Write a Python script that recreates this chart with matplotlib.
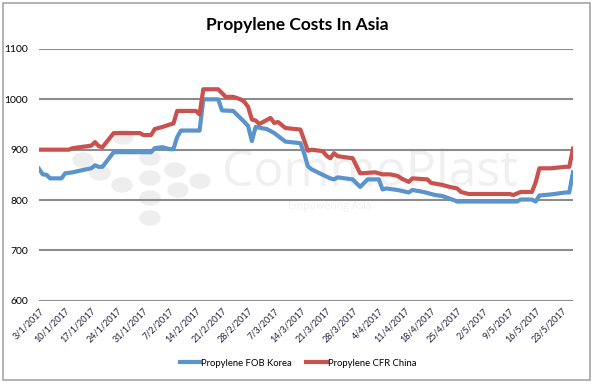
import numpy as np
import pandas as pd
import matplotlib
matplotlib.use("Agg")
import matplotlib.pyplot as plt
from matplotlib.patches import Rectangle, Ellipse

korea_dates = ['2017-01-03', '2017-01-04', '2017-01-05', '2017-01-06', '2017-01-09', '2017-01-10',
               '2017-01-12', '2017-01-15', '2017-01-17', '2017-01-18', '2017-01-19', '2017-01-20',
               '2017-01-23', '2017-02-02', '2017-02-03', '2017-02-05', '2017-02-07', '2017-02-08',
               '2017-02-09', '2017-02-10', '2017-02-15', '2017-02-16', '2017-02-20', '2017-02-21',
               '2017-02-24', '2017-02-27', '2017-02-28', '2017-03-01', '2017-03-02', '2017-03-05',
               '2017-03-07', '2017-03-10', '2017-03-14', '2017-03-15', '2017-03-16', '2017-03-17',
               '2017-03-20', '2017-03-22', '2017-03-23', '2017-03-24', '2017-03-26', '2017-03-28',
               '2017-03-30', '2017-04-01', '2017-04-04', '2017-04-05', '2017-04-06', '2017-04-09',
               '2017-04-12', '2017-04-13', '2017-04-16', '2017-04-19', '2017-04-21', '2017-04-24',
               '2017-04-25', '2017-05-11', '2017-05-12', '2017-05-15', '2017-05-16', '2017-05-17',
               '2017-05-20', '2017-05-24', '2017-05-25', '2017-05-26']
korea_values = [862, 851, 850, 843, 843, 853,
                855, 860, 863, 869, 866, 866,
                895, 895, 903, 905, 901, 901,
                925, 938, 938, 1000, 1000, 978,
                977, 955, 947, 917, 945, 941,
                933, 916, 913, 893, 867, 861,
                850, 843, 841, 845, 843, 841,
                826, 841, 841, 821, 823, 820,
                815, 820, 816, 810, 808, 800,
                797, 797, 801, 801, 797, 809,
                811, 815, 815, 855]

china_dates = ['2017-01-03', '2017-01-11', '2017-01-12', '2017-01-15', '2017-01-17', '2017-01-18',
               '2017-01-19', '2017-01-20', '2017-01-23', '2017-01-30', '2017-01-31', '2017-02-02',
               '2017-02-03', '2017-02-05', '2017-02-07', '2017-02-08', '2017-02-09', '2017-02-14',
               '2017-02-15', '2017-02-16', '2017-02-20', '2017-02-22', '2017-02-24', '2017-02-26',
               '2017-02-27', '2017-02-28', '2017-03-01', '2017-03-02', '2017-03-03', '2017-03-06',
               '2017-03-07', '2017-03-08', '2017-03-10', '2017-03-14', '2017-03-16', '2017-03-17',
               '2017-03-20', '2017-03-21', '2017-03-22', '2017-03-23', '2017-03-24', '2017-03-28',
               '2017-03-30', '2017-04-03', '2017-04-05', '2017-04-07', '2017-04-09', '2017-04-10',
               '2017-04-12', '2017-04-13', '2017-04-17', '2017-04-18', '2017-04-21', '2017-04-23',
               '2017-04-25', '2017-04-26', '2017-04-28', '2017-05-09', '2017-05-10', '2017-05-12',
               '2017-05-15', '2017-05-16', '2017-05-17', '2017-05-20', '2017-05-24', '2017-05-25',
               '2017-05-26']
china_values = [900, 900, 903, 906, 908, 915,
                907, 905, 933, 933, 929, 929,
                941, 945, 950, 952, 977, 977,
                970, 1020, 1020, 1005, 1005, 1000,
                995, 985, 960, 958, 951, 963,
                953, 955, 943, 940, 898, 900,
                897, 888, 883, 893, 887, 883,
                853, 855, 851, 851, 848, 843,
                836, 843, 841, 834, 830, 826,
                823, 816, 812, 812, 810, 816,
                816, 835, 863, 863, 866, 866,
                902]

tick_dates = pd.date_range('2017-01-03', '2017-05-23', freq='7D')
y_ticks = [600, 700, 800, 900, 1000, 1100]

blue = '#5b93cc'
red = '#c9524e'

fig = plt.figure(figsize=(5.96, 3.84), dpi=100)
fig.patch.set_facecolor('white')

# chart frame
fig.patches.append(Rectangle((3 / 596, 1 - 380 / 384), 587 / 596, 377 / 384,
                             transform=fig.transFigure, fill=False,
                             edgecolor='#a6a6a6', linewidth=1.2))

ax = fig.add_axes([39 / 596, 1 - 300.7 / 384, 534 / 596, 251.7 / 384])
ax.set_facecolor('none')

# faint watermark logo (drawn under the lines)
for cx, cy in [(83, 160), (100, 173), (123, 137), (122, 185), (150, 158), (150, 178),
               (150, 198), (150, 218), (175, 170), (178, 190), (200, 181)]:
    ax.add_patch(Ellipse((cx / 596, 1 - cy / 384), 20 / 596, 14 / 384,
                         transform=fig.transFigure, color='#eeeeee', zorder=0,
                         clip_on=False))
ax.text(222 / 596, 1 - 173 / 384, 'CommoPlast', fontsize=36, color='#f0f0f0',
        family='Open Sans', va='center', ha='left', zorder=0,
        transform=fig.transFigure)
ax.text(288 / 596, 1 - 207 / 384, 'Empowering Asia', fontsize=7.5, color='#f0f0f0',
        family='Open Sans', va='center', ha='left', zorder=0,
        transform=fig.transFigure)

ax.plot(pd.to_datetime(korea_dates), korea_values, color=blue, lw=3,
        solid_joinstyle='round', label='Propylene FOB Korea', zorder=3)
ax.plot(pd.to_datetime(china_dates), china_values, color=red, lw=3,
        solid_joinstyle='round', label='Propylene CFR China', zorder=3)

ax.set_ylim(600, 1100)
ax.set_yticks(y_ticks)
ax.set_xlim(pd.Timestamp('2017-01-03'), pd.Timestamp('2017-05-26'))
ax.set_xticks(tick_dates)
ax.set_xticklabels([f'{d.day}/{d.month}/{d.year}' for d in tick_dates],
                   rotation=45, ha='right', rotation_mode='anchor',
                   fontsize=6.5, color='#1f1f3a', family='Lato')
for lab in ax.get_yticklabels():
    lab.set_fontsize(7.5)
    lab.set_family('Lato')
ax.grid(axis='y', color='#8c8c8c', linewidth=1.5, zorder=1)
ax.tick_params(length=0, pad=8)
ax.tick_params(axis='x', pad=4)
for s in ax.spines.values():
    s.set_visible(False)

fig.text(297 / 596, 1 - 25 / 384, 'Propylene Costs In Asia', fontsize=12.5,
         fontweight='bold', family='Lato', ha='center', va='center')

leg = fig.legend(loc='center', bbox_to_anchor=(298 / 596, 1 - 363 / 384), ncol=2,
                 frameon=False, prop={'family': 'Lato', 'size': 6.8}, handlelength=2.2,
                 handletextpad=0.1, columnspacing=1.5)

fig.savefig('out.png', dpi=100)
